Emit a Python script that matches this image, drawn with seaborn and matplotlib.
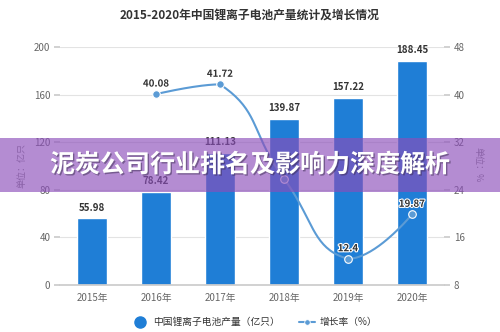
import numpy as np
import pandas as pd
import matplotlib
matplotlib.use("Agg")
import matplotlib.pyplot as plt
import matplotlib.patheffects as pe
from matplotlib.lines import Line2D
from matplotlib.patches import Rectangle
import seaborn as sns

# --- data -------------------------------------------------------------
years = ["2015年", "2016年", "2017年", "2018年", "2019年", "2020年"]
output = [55.98, 78.42, 111.13, 139.87, 157.22, 188.45]          # 亿只
growth_years = ["2016年", "2017年", "2018年", "2019年", "2020年"]
growth = [40.08, 41.72, 25.86, 12.4, 19.87]                        # %
growth_labelled = [True, True, False, True, True]
left_ticks = [0, 40, 80, 120, 160, 200]
right_ticks = [8, 16, 24, 32, 40, 48]
title = "2015-2020年中国锂离子电池产量统计及增长情况"
banner = "泥炭公司行业排名及影响力深度解析"
bar_name = "中国锂离子电池产量（亿只）"
line_name = "增长率（%）"

BAR = "#1f7ed6"
LINE = "#5b9bd5"
TXT = "#333333"
TICK = "#666666"

sns.set_theme(style="white")
plt.rcParams["font.family"] = ["Noto Sans CJK SC", "DejaVu Sans"]

fig = plt.figure(figsize=(5, 3.32), dpi=100)
ax = fig.add_axes([0.12, 0.1416, 0.768, 0.7168])

df = pd.DataFrame({"year": years, "output": output})
sns.barplot(data=df, x="year", y="output", color=BAR, saturation=1,
            width=0.48, ax=ax, zorder=2)
ax.set_xlim(-0.5, len(years) - 0.5)
ax.set_ylim(left_ticks[0], left_ticks[-1])
ax.set_yticks(left_ticks)
ax.set_xlabel("")
ax.set_ylabel("")
ax.yaxis.grid(True, color="#e3e3e3", lw=0.8)
ax.set_axisbelow(True)
for s in ("top", "left", "right"):
    ax.spines[s].set_visible(False)
ax.spines["bottom"].set_color("#cccccc")
ax.tick_params(axis="y", length=4, color="#cccccc", pad=3, labelsize=7,
               labelcolor=TICK, left=True)
ax.tick_params(axis="x", length=0, pad=6, labelsize=7, labelcolor=TICK)

for i, v in enumerate(output):
    ax.annotate(f"{v:.2f}", (i, v), xytext=(0, 4), textcoords="offset points",
                ha="center", va="bottom", fontsize=7, fontweight="bold",
                color=TXT, zorder=5)

# --- growth rate on the right axis ------------------------------------
ax2 = ax.twinx()
ax2.set_ylim(right_ticks[0], right_ticks[-1])
ax2.set_yticks(right_ticks)
for s in ("top", "left", "right", "bottom"):
    ax2.spines[s].set_visible(False)
ax2.tick_params(axis="y", length=4, color="#cccccc", pad=3, labelsize=7,
                labelcolor=TICK, right=True)
ax2.grid(False)

gx = np.array([years.index(y) for y in growth_years], dtype=float)
gy = np.array(growth, dtype=float)


def smooth_path(axis, xs, ys, smooth=0.5, n=40):
    """Bezier smoothing in display space with clamped control points."""
    pts = axis.transData.transform(np.column_stack([xs, ys]))
    m = len(pts)
    cp_in = pts.copy()
    cp_out = pts.copy()
    for i in range(1, m - 1):
        p, a, b = pts[i], pts[i - 1], pts[i + 1]
        v = b - a
        l0 = np.hypot(*(p - a))
        l1 = np.hypot(*(b - p))
        r = l1 / (l0 + l1)
        co = p + v * smooth * r
        ci = p - v * smooth * (1 - r)
        cp_out[i] = np.clip(co, np.minimum(p, b), np.maximum(p, b))
        cp_in[i] = np.clip(ci, np.minimum(p, a), np.maximum(p, a))
    t = np.linspace(0, 1, n)[:, None]
    segs = []
    for i in range(m - 1):
        p0, p1, p2, p3 = pts[i], cp_out[i], cp_in[i + 1], pts[i + 1]
        seg = ((1 - t) ** 3) * p0 + 3 * ((1 - t) ** 2) * t * p1 \
            + 3 * (1 - t) * t ** 2 * p2 + t ** 3 * p3
        segs.append(seg if i == 0 else seg[1:])
    curve = np.vstack(segs)
    return axis.transData.inverted().transform(curve)


curve = smooth_path(ax2, gx, gy)
ax2.plot(curve[:, 0], curve[:, 1], color=LINE, lw=1.5, zorder=3)
sns.scatterplot(x=gx, y=gy, ax=ax2, color=LINE, s=30, edgecolor="white",
                linewidth=0.8, zorder=4, legend=False)
for x, v, show in zip(gx, gy, growth_labelled):
    if not show:
        continue
    ax2.annotate(f"{v:g}", (x, v), xytext=(0, 4), textcoords="offset points",
                 ha="center", va="bottom", fontsize=7, fontweight="bold",
                 color=TXT, zorder=5,
                 path_effects=[pe.withStroke(linewidth=1.6, foreground="white")])

# --- titles, axis names, legend ---------------------------------------
fig.text(0.5, 0.955, title, ha="center", va="center", fontsize=8.5,
         fontweight="bold", color=TXT)
fig.text(0.044, 0.503, "单位：亿只", rotation=90, ha="center", va="center",
         fontsize=6.5, color="#888888", zorder=1)
fig.text(0.956, 0.503, "单位：%", rotation=-90, ha="center", va="center",
         fontsize=6.5, color="#888888", zorder=1)

handles = [
    Line2D([], [], marker="o", ls="none", color=BAR, markersize=8),
    Line2D([], [], marker="o", color=LINE, lw=1.5, markersize=4,
           markeredgecolor="white", markeredgewidth=0.6),
]
fig.legend(handles, [bar_name, line_name], loc="center",
           bbox_to_anchor=(0.51, 0.03), ncol=2, frameon=False, fontsize=7,
           labelcolor=TXT, handlelength=1.6, handletextpad=0.5,
           columnspacing=2.0)

# --- overlay banner ---------------------------------------------------
fig.add_artist(Rectangle((0, 0.4217), 1, 0.1626, transform=fig.transFigure,
                         facecolor=(140 / 255, 78 / 255, 186 / 255),
                         alpha=0.65, edgecolor="none", zorder=10))
fig.text(0.5, 0.503, banner, ha="center", va="center", fontsize=18,
         fontweight="bold", color="white", zorder=11,
         path_effects=[pe.withSimplePatchShadow(offset=(1, -1),
                                                shadow_rgbFace="#3a2a50",
                                                alpha=0.5)])

fig.savefig("out.png", dpi=100)
